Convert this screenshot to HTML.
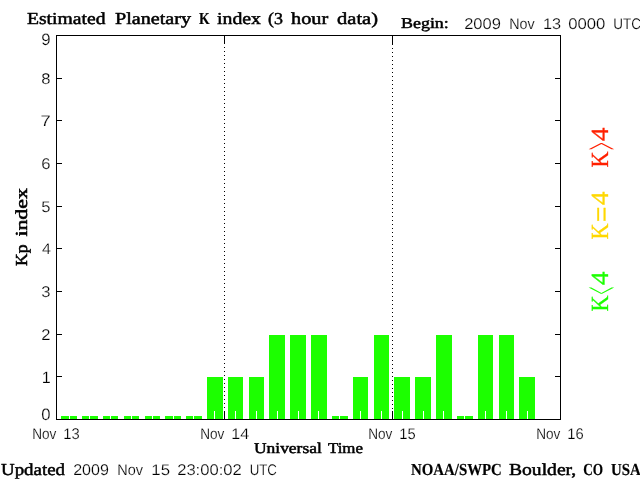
<!DOCTYPE html>
<html lang="en"><head><meta charset="utf-8"><title>Estimated Planetary K index (3 hour data)</title>
<style>
html,body{margin:0;padding:0;background:#fff;}
body{width:640px;height:480px;overflow:hidden;}
svg{display:block;}
.s{font-family:"Liberation Sans",sans-serif;fill:#000;stroke:#fff;stroke-width:0.2px;}
.b{font-family:"Liberation Serif",serif;font-weight:normal;fill:#000;stroke:#000;stroke-width:0.55px;stroke-linejoin:round;}
.r{font-family:"Liberation Serif",serif;}
</style></head><body>
<svg width="640" height="480" viewBox="0 0 640 480">
<rect x="0" y="0" width="640" height="480" fill="#fff"/>
<g shape-rendering="crispEdges">
<g fill="#1cff00">
<rect x="61" y="416" width="16" height="3"/>
<rect x="82" y="416" width="16" height="3"/>
<rect x="103" y="416" width="15" height="3"/>
<rect x="124" y="416" width="15" height="3"/>
<rect x="145" y="416" width="15" height="3"/>
<rect x="165" y="416" width="16" height="3"/>
<rect x="186" y="416" width="16" height="3"/>
<rect x="207" y="377" width="16" height="42"/>
<rect x="228" y="377" width="15" height="42"/>
<rect x="249" y="377" width="15" height="42"/>
<rect x="269" y="335" width="16" height="84"/>
<rect x="290" y="335" width="16" height="84"/>
<rect x="311" y="335" width="16" height="84"/>
<rect x="332" y="416" width="16" height="3"/>
<rect x="353" y="377" width="15" height="42"/>
<rect x="374" y="335" width="15" height="84"/>
<rect x="394" y="377" width="16" height="42"/>
<rect x="415" y="377" width="16" height="42"/>
<rect x="436" y="335" width="16" height="84"/>
<rect x="457" y="416" width="16" height="3"/>
<rect x="478" y="335" width="15" height="84"/>
<rect x="499" y="335" width="15" height="84"/>
<rect x="519" y="377" width="16" height="42"/>
</g>
<g fill="#fff">
<rect x="69" y="411" width="1" height="8"/>
<rect x="89" y="411" width="1" height="8"/>
<rect x="110" y="411" width="1" height="8"/>
<rect x="131" y="411" width="1" height="8"/>
<rect x="152" y="411" width="1" height="8"/>
<rect x="173" y="411" width="1" height="8"/>
<rect x="193" y="411" width="1" height="8"/>
<rect x="214" y="411" width="1" height="8"/>
<rect x="235" y="411" width="1" height="8"/>
<rect x="256" y="411" width="1" height="8"/>
<rect x="277" y="411" width="1" height="8"/>
<rect x="298" y="411" width="1" height="8"/>
<rect x="318" y="411" width="1" height="8"/>
<rect x="339" y="411" width="1" height="8"/>
<rect x="360" y="411" width="1" height="8"/>
<rect x="381" y="411" width="1" height="8"/>
<rect x="402" y="411" width="1" height="8"/>
<rect x="423" y="411" width="1" height="8"/>
<rect x="443" y="411" width="1" height="8"/>
<rect x="464" y="411" width="1" height="8"/>
<rect x="485" y="411" width="1" height="8"/>
<rect x="506" y="411" width="1" height="8"/>
<rect x="527" y="411" width="1" height="8"/>
</g>
<g fill="#000">
<rect x="56" y="35" width="505" height="1"/>
<rect x="56" y="419" width="505" height="1"/>
<rect x="56" y="35" width="1" height="385"/>
<rect x="560" y="35" width="1" height="385"/>
<rect x="57" y="376" width="5" height="1"/>
<rect x="555" y="376" width="5" height="1"/>
<rect x="57" y="334" width="5" height="1"/>
<rect x="555" y="334" width="5" height="1"/>
<rect x="57" y="291" width="5" height="1"/>
<rect x="555" y="291" width="5" height="1"/>
<rect x="57" y="248" width="5" height="1"/>
<rect x="555" y="248" width="5" height="1"/>
<rect x="57" y="206" width="5" height="1"/>
<rect x="555" y="206" width="5" height="1"/>
<rect x="57" y="163" width="5" height="1"/>
<rect x="555" y="163" width="5" height="1"/>
<rect x="57" y="120" width="5" height="1"/>
<rect x="555" y="120" width="5" height="1"/>
<rect x="57" y="78" width="5" height="1"/>
<rect x="555" y="78" width="5" height="1"/>
<rect x="224" y="411" width="1" height="8"/>
<rect x="224" y="36" width="1" height="8"/>
<rect x="224" y="47" width="1" height="1"/>
<rect x="224" y="51" width="1" height="1"/>
<rect x="224" y="55" width="1" height="1"/>
<rect x="224" y="59" width="1" height="1"/>
<rect x="224" y="63" width="1" height="1"/>
<rect x="224" y="67" width="1" height="1"/>
<rect x="224" y="71" width="1" height="1"/>
<rect x="224" y="75" width="1" height="1"/>
<rect x="224" y="79" width="1" height="1"/>
<rect x="224" y="83" width="1" height="1"/>
<rect x="224" y="87" width="1" height="1"/>
<rect x="224" y="91" width="1" height="1"/>
<rect x="224" y="95" width="1" height="1"/>
<rect x="224" y="99" width="1" height="1"/>
<rect x="224" y="103" width="1" height="1"/>
<rect x="224" y="107" width="1" height="1"/>
<rect x="224" y="111" width="1" height="1"/>
<rect x="224" y="115" width="1" height="1"/>
<rect x="224" y="119" width="1" height="1"/>
<rect x="224" y="123" width="1" height="1"/>
<rect x="224" y="127" width="1" height="1"/>
<rect x="224" y="131" width="1" height="1"/>
<rect x="224" y="135" width="1" height="1"/>
<rect x="224" y="139" width="1" height="1"/>
<rect x="224" y="143" width="1" height="1"/>
<rect x="224" y="147" width="1" height="1"/>
<rect x="224" y="151" width="1" height="1"/>
<rect x="224" y="155" width="1" height="1"/>
<rect x="224" y="159" width="1" height="1"/>
<rect x="224" y="163" width="1" height="1"/>
<rect x="224" y="167" width="1" height="1"/>
<rect x="224" y="171" width="1" height="1"/>
<rect x="224" y="175" width="1" height="1"/>
<rect x="224" y="179" width="1" height="1"/>
<rect x="224" y="183" width="1" height="1"/>
<rect x="224" y="187" width="1" height="1"/>
<rect x="224" y="191" width="1" height="1"/>
<rect x="224" y="195" width="1" height="1"/>
<rect x="224" y="199" width="1" height="1"/>
<rect x="224" y="203" width="1" height="1"/>
<rect x="224" y="207" width="1" height="1"/>
<rect x="224" y="211" width="1" height="1"/>
<rect x="224" y="215" width="1" height="1"/>
<rect x="224" y="219" width="1" height="1"/>
<rect x="224" y="223" width="1" height="1"/>
<rect x="224" y="227" width="1" height="1"/>
<rect x="224" y="231" width="1" height="1"/>
<rect x="224" y="235" width="1" height="1"/>
<rect x="224" y="239" width="1" height="1"/>
<rect x="224" y="243" width="1" height="1"/>
<rect x="224" y="247" width="1" height="1"/>
<rect x="224" y="251" width="1" height="1"/>
<rect x="224" y="255" width="1" height="1"/>
<rect x="224" y="259" width="1" height="1"/>
<rect x="224" y="263" width="1" height="1"/>
<rect x="224" y="267" width="1" height="1"/>
<rect x="224" y="271" width="1" height="1"/>
<rect x="224" y="275" width="1" height="1"/>
<rect x="224" y="279" width="1" height="1"/>
<rect x="224" y="283" width="1" height="1"/>
<rect x="224" y="287" width="1" height="1"/>
<rect x="224" y="291" width="1" height="1"/>
<rect x="224" y="295" width="1" height="1"/>
<rect x="224" y="299" width="1" height="1"/>
<rect x="224" y="303" width="1" height="1"/>
<rect x="224" y="307" width="1" height="1"/>
<rect x="224" y="311" width="1" height="1"/>
<rect x="224" y="315" width="1" height="1"/>
<rect x="224" y="319" width="1" height="1"/>
<rect x="224" y="323" width="1" height="1"/>
<rect x="224" y="327" width="1" height="1"/>
<rect x="224" y="331" width="1" height="1"/>
<rect x="224" y="335" width="1" height="1"/>
<rect x="224" y="339" width="1" height="1"/>
<rect x="224" y="343" width="1" height="1"/>
<rect x="224" y="347" width="1" height="1"/>
<rect x="224" y="351" width="1" height="1"/>
<rect x="224" y="355" width="1" height="1"/>
<rect x="224" y="359" width="1" height="1"/>
<rect x="224" y="363" width="1" height="1"/>
<rect x="224" y="367" width="1" height="1"/>
<rect x="224" y="371" width="1" height="1"/>
<rect x="224" y="375" width="1" height="1"/>
<rect x="224" y="379" width="1" height="1"/>
<rect x="224" y="383" width="1" height="1"/>
<rect x="224" y="387" width="1" height="1"/>
<rect x="224" y="391" width="1" height="1"/>
<rect x="224" y="395" width="1" height="1"/>
<rect x="224" y="399" width="1" height="1"/>
<rect x="224" y="403" width="1" height="1"/>
<rect x="224" y="407" width="1" height="1"/>
<rect x="392" y="411" width="1" height="8"/>
<rect x="392" y="36" width="1" height="8"/>
<rect x="392" y="44" width="1" height="1"/>
<rect x="392" y="48" width="1" height="1"/>
<rect x="392" y="52" width="1" height="1"/>
<rect x="392" y="56" width="1" height="1"/>
<rect x="392" y="60" width="1" height="1"/>
<rect x="392" y="64" width="1" height="1"/>
<rect x="392" y="68" width="1" height="1"/>
<rect x="392" y="72" width="1" height="1"/>
<rect x="392" y="76" width="1" height="1"/>
<rect x="392" y="80" width="1" height="1"/>
<rect x="392" y="84" width="1" height="1"/>
<rect x="392" y="88" width="1" height="1"/>
<rect x="392" y="92" width="1" height="1"/>
<rect x="392" y="96" width="1" height="1"/>
<rect x="392" y="100" width="1" height="1"/>
<rect x="392" y="104" width="1" height="1"/>
<rect x="392" y="108" width="1" height="1"/>
<rect x="392" y="112" width="1" height="1"/>
<rect x="392" y="116" width="1" height="1"/>
<rect x="392" y="120" width="1" height="1"/>
<rect x="392" y="124" width="1" height="1"/>
<rect x="392" y="128" width="1" height="1"/>
<rect x="392" y="132" width="1" height="1"/>
<rect x="392" y="136" width="1" height="1"/>
<rect x="392" y="140" width="1" height="1"/>
<rect x="392" y="144" width="1" height="1"/>
<rect x="392" y="148" width="1" height="1"/>
<rect x="392" y="152" width="1" height="1"/>
<rect x="392" y="156" width="1" height="1"/>
<rect x="392" y="160" width="1" height="1"/>
<rect x="392" y="164" width="1" height="1"/>
<rect x="392" y="168" width="1" height="1"/>
<rect x="392" y="172" width="1" height="1"/>
<rect x="392" y="176" width="1" height="1"/>
<rect x="392" y="180" width="1" height="1"/>
<rect x="392" y="184" width="1" height="1"/>
<rect x="392" y="188" width="1" height="1"/>
<rect x="392" y="192" width="1" height="1"/>
<rect x="392" y="196" width="1" height="1"/>
<rect x="392" y="200" width="1" height="1"/>
<rect x="392" y="204" width="1" height="1"/>
<rect x="392" y="208" width="1" height="1"/>
<rect x="392" y="212" width="1" height="1"/>
<rect x="392" y="216" width="1" height="1"/>
<rect x="392" y="220" width="1" height="1"/>
<rect x="392" y="224" width="1" height="1"/>
<rect x="392" y="228" width="1" height="1"/>
<rect x="392" y="232" width="1" height="1"/>
<rect x="392" y="236" width="1" height="1"/>
<rect x="392" y="240" width="1" height="1"/>
<rect x="392" y="244" width="1" height="1"/>
<rect x="392" y="248" width="1" height="1"/>
<rect x="392" y="252" width="1" height="1"/>
<rect x="392" y="256" width="1" height="1"/>
<rect x="392" y="260" width="1" height="1"/>
<rect x="392" y="264" width="1" height="1"/>
<rect x="392" y="268" width="1" height="1"/>
<rect x="392" y="272" width="1" height="1"/>
<rect x="392" y="276" width="1" height="1"/>
<rect x="392" y="280" width="1" height="1"/>
<rect x="392" y="284" width="1" height="1"/>
<rect x="392" y="288" width="1" height="1"/>
<rect x="392" y="292" width="1" height="1"/>
<rect x="392" y="296" width="1" height="1"/>
<rect x="392" y="300" width="1" height="1"/>
<rect x="392" y="304" width="1" height="1"/>
<rect x="392" y="308" width="1" height="1"/>
<rect x="392" y="312" width="1" height="1"/>
<rect x="392" y="316" width="1" height="1"/>
<rect x="392" y="320" width="1" height="1"/>
<rect x="392" y="324" width="1" height="1"/>
<rect x="392" y="328" width="1" height="1"/>
<rect x="392" y="332" width="1" height="1"/>
<rect x="392" y="336" width="1" height="1"/>
<rect x="392" y="340" width="1" height="1"/>
<rect x="392" y="344" width="1" height="1"/>
<rect x="392" y="348" width="1" height="1"/>
<rect x="392" y="352" width="1" height="1"/>
<rect x="392" y="356" width="1" height="1"/>
<rect x="392" y="360" width="1" height="1"/>
<rect x="392" y="364" width="1" height="1"/>
<rect x="392" y="368" width="1" height="1"/>
<rect x="392" y="372" width="1" height="1"/>
<rect x="392" y="376" width="1" height="1"/>
<rect x="392" y="380" width="1" height="1"/>
<rect x="392" y="384" width="1" height="1"/>
<rect x="392" y="388" width="1" height="1"/>
<rect x="392" y="392" width="1" height="1"/>
<rect x="392" y="396" width="1" height="1"/>
<rect x="392" y="400" width="1" height="1"/>
<rect x="392" y="404" width="1" height="1"/>
<rect x="392" y="408" width="1" height="1"/>
</g>
</g>
<g text-rendering="geometricPrecision">
<text class="b" x="27.00" y="24.00" font-size="16.80" textLength="78.44" lengthAdjust="spacingAndGlyphs" style="stroke-width:0.5px">Estimated</text>
<text class="b" x="115.00" y="24.00" font-size="16.80" textLength="76.00" lengthAdjust="spacingAndGlyphs" style="stroke-width:0.5px">Planetary</text>
<text class="b" x="198.95" y="24.00" font-size="16.80" textLength="10.65" lengthAdjust="spacingAndGlyphs" style="font-weight:bold;stroke-width:0.2px">K</text>
<text class="b" x="217.00" y="24.00" font-size="16.80" textLength="44.00" lengthAdjust="spacingAndGlyphs" style="stroke-width:0.5px">index</text>
<text class="b" x="268.10" y="24.00" font-size="16.80" textLength="14.92" lengthAdjust="spacingAndGlyphs" style="stroke-width:0.5px">(3</text>
<text class="b" x="291.00" y="24.00" font-size="16.80" textLength="37.15" lengthAdjust="spacingAndGlyphs" style="stroke-width:0.5px">hour</text>
<text class="b" x="337.10" y="24.00" font-size="16.80" textLength="40.90" lengthAdjust="spacingAndGlyphs" style="stroke-width:0.5px">data)</text>
<text class="b" x="401.00" y="28.00" font-size="15.00" textLength="47.82" lengthAdjust="spacingAndGlyphs" style="stroke-width:0.5px">Begin:</text>
<text class="s" x="464.15" y="29.00" font-size="15.40" textLength="36.76" lengthAdjust="spacingAndGlyphs" style="stroke:#fff;stroke-width:0.20px">2009</text>
<text class="s" x="509.20" y="29.00" font-size="15.40" textLength="25.43" lengthAdjust="spacingAndGlyphs" style="stroke:#fff;stroke-width:0.20px">Nov</text>
<text class="s" x="542.96" y="29.00" font-size="15.40" textLength="18.11" lengthAdjust="spacingAndGlyphs" style="stroke:#fff;stroke-width:0.20px">13</text>
<text class="s" x="568.15" y="29.00" font-size="15.40" textLength="37.27" lengthAdjust="spacingAndGlyphs" style="stroke:#fff;stroke-width:0.20px">0000</text>
<text class="s" x="613.15" y="29.00" font-size="15.40" textLength="27.75" lengthAdjust="spacingAndGlyphs" style="stroke:#fff;stroke-width:0.20px">UTC</text>
<text class="s" x="32.20" y="438.60" font-size="15.40" textLength="24.18" lengthAdjust="spacingAndGlyphs" style="stroke:#fff;stroke-width:0.20px">Nov</text>
<text class="s" x="63.35" y="438.60" font-size="15.40" textLength="16.43" lengthAdjust="spacingAndGlyphs" style="stroke:#fff;stroke-width:0.20px">13</text>
<text class="s" x="200.20" y="438.60" font-size="15.40" textLength="24.18" lengthAdjust="spacingAndGlyphs" style="stroke:#fff;stroke-width:0.20px">Nov</text>
<text class="s" x="231.35" y="438.60" font-size="15.40" textLength="17.82" lengthAdjust="spacingAndGlyphs" style="stroke:#fff;stroke-width:0.20px">14</text>
<text class="s" x="368.20" y="438.60" font-size="15.40" textLength="24.18" lengthAdjust="spacingAndGlyphs" style="stroke:#fff;stroke-width:0.20px">Nov</text>
<text class="s" x="399.35" y="438.60" font-size="15.40" textLength="16.43" lengthAdjust="spacingAndGlyphs" style="stroke:#fff;stroke-width:0.20px">15</text>
<text class="s" x="536.20" y="438.60" font-size="15.40" textLength="24.18" lengthAdjust="spacingAndGlyphs" style="stroke:#fff;stroke-width:0.20px">Nov</text>
<text class="s" x="567.35" y="438.60" font-size="15.40" textLength="16.43" lengthAdjust="spacingAndGlyphs" style="stroke:#fff;stroke-width:0.20px">16</text>
<text class="b" x="253.95" y="453.00" font-size="15.00" textLength="67.90" lengthAdjust="spacingAndGlyphs" style="stroke-width:0.5px">Universal</text>
<text class="b" x="327.95" y="453.00" font-size="15.00" textLength="35.06" lengthAdjust="spacingAndGlyphs" style="stroke-width:0.5px">Time</text>
<text class="b" x="1.00" y="475.00" font-size="16.80" textLength="64.00" lengthAdjust="spacingAndGlyphs" style="stroke-width:0.5px">Updated</text>
<text class="s" x="73.15" y="475.00" font-size="15.40" textLength="35.71" lengthAdjust="spacingAndGlyphs" style="stroke:#fff;stroke-width:0.20px">2009</text>
<text class="s" x="117.35" y="475.00" font-size="15.40" textLength="25.72" lengthAdjust="spacingAndGlyphs" style="stroke:#fff;stroke-width:0.20px">Nov</text>
<text class="s" x="151.30" y="475.00" font-size="15.40" textLength="18.73" lengthAdjust="spacingAndGlyphs" style="stroke:#fff;stroke-width:0.20px">15</text>
<text class="s" x="177.15" y="475.00" font-size="15.40" textLength="64.67" lengthAdjust="spacingAndGlyphs" style="stroke:#fff;stroke-width:0.20px">23:00:02</text>
<text class="s" x="249.64" y="475.00" font-size="15.40" textLength="27.28" lengthAdjust="spacingAndGlyphs" style="stroke:#fff;stroke-width:0.20px">UTC</text>
<text class="b" x="411.00" y="475.00" font-size="16.80" textLength="90.86" lengthAdjust="spacingAndGlyphs" style="font-weight:bold;stroke-width:0.2px">NOAA/SWPC</text>
<text class="b" x="509.00" y="475.00" font-size="16.80" textLength="67.25" lengthAdjust="spacingAndGlyphs" style="stroke-width:0.5px">Boulder,</text>
<text class="b" x="583.15" y="475.00" font-size="16.80" textLength="19.86" lengthAdjust="spacingAndGlyphs" style="font-weight:bold;stroke-width:0.2px">CO</text>
<text class="b" x="611.05" y="475.00" font-size="16.80" textLength="29.75" lengthAdjust="spacingAndGlyphs" style="font-weight:bold;stroke-width:0.2px">USA</text>
<text class="s" x="41.30" y="419.60" font-size="16.40" textLength="9.30" lengthAdjust="spacingAndGlyphs" style="stroke:#fff;stroke-width:0.20px">0</text>
<text class="s" x="41.80" y="382.50" font-size="16.40" textLength="9.00" lengthAdjust="spacingAndGlyphs" style="stroke:#fff;stroke-width:0.20px">1</text>
<text class="s" x="41.20" y="340.00" font-size="15.40" textLength="9.23" lengthAdjust="spacingAndGlyphs" style="stroke:#fff;stroke-width:0.20px">2</text>
<text class="s" x="41.20" y="297.00" font-size="15.40" textLength="9.23" lengthAdjust="spacingAndGlyphs" style="stroke:#fff;stroke-width:0.20px">3</text>
<text class="s" x="42.00" y="254.00" font-size="15.40" textLength="8.91" lengthAdjust="spacingAndGlyphs" style="stroke:#fff;stroke-width:0.20px">4</text>
<text class="s" x="41.20" y="212.00" font-size="15.40" textLength="9.23" lengthAdjust="spacingAndGlyphs" style="stroke:#fff;stroke-width:0.20px">5</text>
<text class="s" x="41.20" y="169.00" font-size="15.40" textLength="9.23" lengthAdjust="spacingAndGlyphs" style="stroke:#fff;stroke-width:0.20px">6</text>
<text class="s" x="40.40" y="126.00" font-size="15.40" textLength="10.29" lengthAdjust="spacingAndGlyphs" style="stroke:#fff;stroke-width:0.20px">7</text>
<text class="s" x="41.20" y="84.00" font-size="15.40" textLength="9.23" lengthAdjust="spacingAndGlyphs" style="stroke:#fff;stroke-width:0.20px">8</text>
<text class="s" x="41.30" y="45.40" font-size="16.40" textLength="9.30" lengthAdjust="spacingAndGlyphs" style="stroke:#fff;stroke-width:0.20px">9</text>
<text class="b" transform="translate(26.7,266) rotate(-90)" font-size="16.8" textLength="21.5" lengthAdjust="spacingAndGlyphs">Kp</text>
<text class="b" transform="translate(26.7,236.6) rotate(-90)" font-size="16.8" textLength="48.5" lengthAdjust="spacingAndGlyphs">index</text>
<g fill="#ff2000" stroke="#ff2000" stroke-width="0.3">
<text class="r" transform="translate(608.20,167.50) rotate(-90)" font-size="24.60" textLength="16.00" lengthAdjust="spacingAndGlyphs">K</text>
<text class="r" transform="translate(619.00,150.10) rotate(-90)" font-size="53.00" textLength="7.70" lengthAdjust="spacingAndGlyphs" stroke="none">&gt;</text>
<text class="r" transform="translate(608.20,141.00) rotate(-90)" font-size="24.60" textLength="13.50" lengthAdjust="spacingAndGlyphs">4</text>
</g>
<g fill="#ffd800" stroke="#ffd800" stroke-width="0.3">
<text class="r" transform="translate(608.20,239.50) rotate(-90)" font-size="24.60" textLength="16.00" lengthAdjust="spacingAndGlyphs">K</text>
<text class="r" transform="translate(611.50,222.30) rotate(-90)" font-size="32.00" textLength="15.60" lengthAdjust="spacingAndGlyphs">=</text>
<text class="r" transform="translate(608.20,205.00) rotate(-90)" font-size="24.60" textLength="13.50" lengthAdjust="spacingAndGlyphs">4</text>
</g>
<g fill="#1cff00" stroke="#1cff00" stroke-width="0.3">
<text class="r" transform="translate(608.20,311.50) rotate(-90)" font-size="24.60" textLength="16.00" lengthAdjust="spacingAndGlyphs">K</text>
<text class="r" transform="translate(619.00,294.60) rotate(-90)" font-size="53.00" textLength="7.60" lengthAdjust="spacingAndGlyphs" stroke="none">&lt;</text>
<text class="r" transform="translate(608.20,285.00) rotate(-90)" font-size="24.60" textLength="13.50" lengthAdjust="spacingAndGlyphs">4</text>
</g>
</g>
</svg>
</body></html>
